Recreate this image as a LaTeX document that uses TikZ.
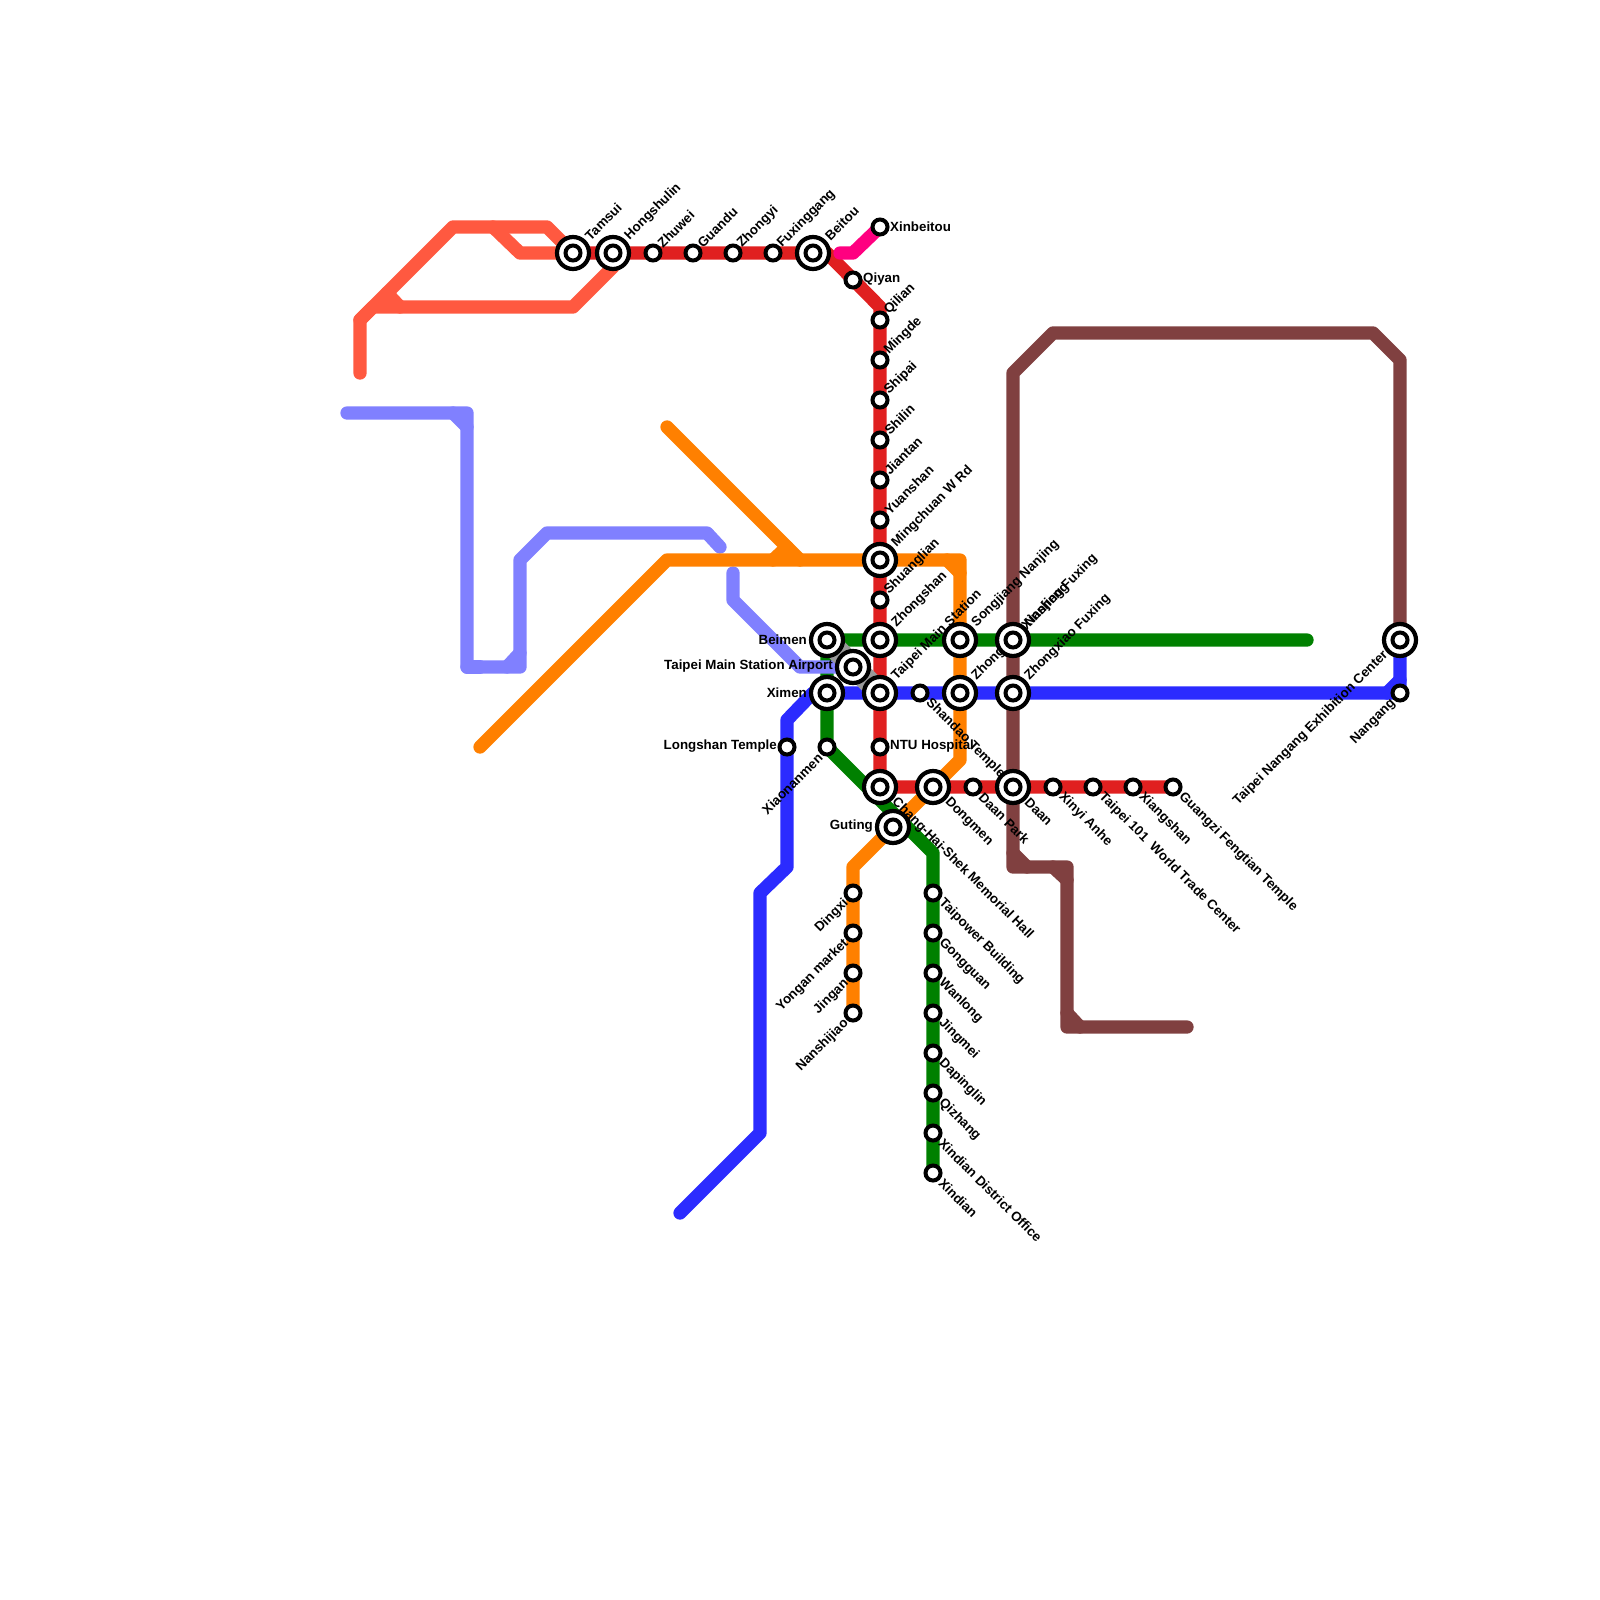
\documentclass[tikz,border=0pt]{standalone}
\usepackage{fontspec}
\setmainfont{Liberation Sans}
\usetikzlibrary{positioning}
\definecolor{lnlight}{HTML}{FF5940}
\definecolor{lnred}{HTML}{E02020}
\definecolor{lnorange}{HTML}{FF8000}
\definecolor{lngreen}{HTML}{008000}
\definecolor{lnblue}{HTML}{2B2BFF}
\definecolor{lnlav}{HTML}{8080FF}
\definecolor{lnbrown}{HTML}{804040}
\definecolor{lnpink}{HTML}{FF0080}
\pgfdeclarelayer{bg}
\pgfdeclarelayer{lab}
\pgfsetlayers{bg,lab,main}
\tikzset{
  mline/.style={line width=13.3pt, line cap=round, line join=round},
  stnsm/.style={circle, draw=black, fill=white, line width=4pt, minimum size=15pt, inner sep=0pt},
  stnbig/.style={circle, draw=black, fill=white, line width=4.2pt, minimum size=32pt, inner sep=0pt},
  lbtxt/.style={font=\fontsize{13.33}{13.33}\selectfont\bfseries, inner sep=0pt, text=black},
  lbne/.style={lbtxt, anchor=west, xshift=6.5pt, yshift=7.5pt, rotate=45},
  lbnex/.style={lbtxt, anchor=west, xshift=14pt, yshift=15pt, rotate=45},
  lbse/.style={lbtxt, anchor=west, xshift=8pt, yshift=-8pt, rotate=-45},
  lbsex/.style={lbtxt, anchor=west, xshift=14pt, yshift=-13pt, rotate=-45},
  lbsw/.style={lbtxt, anchor=east, xshift=-6.5pt, yshift=-8.5pt, rotate=45},
  lbswx/.style={lbtxt, anchor=east, xshift=-14pt, yshift=-13pt, rotate=45},
  lbe/.style={lbtxt, anchor=west, xshift=10pt, yshift=0.5pt},
  lbw/.style={lbtxt, anchor=east, xshift=-10pt, yshift=0.5pt},
  lbwx/.style={lbtxt, anchor=east, xshift=-20pt, yshift=0.5pt},
}
\begin{document}
\begin{tikzpicture}[x=1pt, y=-1pt]
\useasboundingbox (0,0) rectangle (1600,1600);
% bends of the lines
\foreach \n/\x/\y in {la/360/373, lb/360/320, lc/453/227, ld/547/227, le/493/227, lf/520/253, lg/373/307, lh/573/307, li/613/267, lj/387/293, lk/400/307,
    ra/827/253, rb/880/307, pa/840/253, pb/853/253,
    oa/667/427, ob/800/560, oc/480/747, od/667/560, oe/787/547, of/773/560, og/960/560, oh/947/560, oi/960/573, oj/960/760, ok/853/867,
    va/347/413, vb/467/413, vc/453/413, vd/467/427, ve/467/667, vf/520/667, vg/480/667, vh/507/667, vi/520/653, vj/520/560, vk/547/533, vl/707/533, vm/720/547, vn/733/573, vo/733/600, vp/800/667,
    ga/1307/640, gb/933/853,
    ba/680/1213, bb/760/1133, bc/760/893, bd/787/867, be/787/720, bf/813/693, bg/1387/693, bh/1400/680,
    wa/1187/1027, wb/1067/1027, wc/1067/867, wd/1013/867, we/1013/373, wf/1053/333, wg/1373/333, wh/1400/360, wi/1013/853, wj/1027/867, wk/1053/867, wl/1067/880, wm/1067/1013, wn/1080/1027}
  {\coordinate (\n) at (\x,\y);}
% small stations: name/x/y/label style/text
\foreach \n/\x/\y/\st/\lab in {zhuwei/653/253/lbne/Zhuwei, guandu/693/253/lbne/Guandu, zhongyi/733/253/lbne/Zhongyi, fuxinggang/773/253/lbne/Fuxinggang,
    xinbeitou/880/227/lbe/Xinbeitou, qiyan/853/280/lbe/Qiyan,
    qilian/880/320/lbne/Qilian, mingde/880/360/lbne/Mingde, shipai/880/400/lbne/Shipai, shilin/880/440/lbne/Shilin, jiantan/880/480/lbne/Jiantan, yuanshan/880/520/lbne/Yuanshan, shuanglian/880/600/lbne/Shuanglian,
    ntu/880/747/lbe/NTU Hospital, daanpark/973/787/lbse/Daan Park, xinyi/1053/787/lbse/Xinyi Anhe, taipei101/1093/787/lbse/Taipei 101\ \ World Trade Center, xiangshan/1133/787/lbse/Xiangshan, guangzi/1173/787/lbse/Guangzi Fengtian Temple,
    longshan/787/747/lbw/Longshan Temple, xiaonanmen/827/747/lbsw/Xiaonanmen, shandao/920/693/lbse/Shandao Temple,
    dingxi/853/893/lbsw/Dingxi, yongan/853/933/lbsw/Yongan market, jingan/853/973/lbsw/Jingan, nanshijiao/853/1013/lbsw/Nanshijiao,
    taipower/933/893/lbse/Taipower Building, gongguan/933/933/lbse/Gongguan, wanlong/933/973/lbse/Wanlong, jingmei/933/1013/lbse/Jingmei, dapinglin/933/1053/lbse/Dapinglin, qizhang/933/1093/lbse/Qizhang, xdoffice/933/1133/lbse/Xindian District Office, xindian/933/1173/lbse/Xindian,
    nangang/1400/693/lbsw/Nangang}
  {\node[stnsm] (\n) at (\x,\y) {};
   \begin{pgfonlayer}{lab}\node[\st] (\n lb) at (\n) {\lab};\end{pgfonlayer}}
% interchange stations
\foreach \n/\x/\y/\st/\lab in {tamsui/573/253/lbnex/Tamsui, hongshulin/613/253/lbnex/Hongshulin, beitou/813/253/lbnex/Beitou,
    mingchuan/880/560/lbnex/Mingchuan W Rd, zhongshan/880/640/lbnex/Zhongshan, mainstn/880/693/lbnex/Taipei Main Station, ckshall/880/787/lbsex/Chang-Hai-Shek Memorial Hall,
    dongmen/933/787/lbsex/Dongmen, daan/1013/787/lbsex/Daan, guting/893/827/lbwx/Guting,
    beimen/827/640/lbwx/Beimen, airport/853/667/lbwx/Taipei Main Station Airport, ximen/827/693/lbwx/Ximen,
    songjiang/960/640/lbnex/Songjiang Nanjing, xinsheng/960/693/lbnex/Zhongxiao Xinsheng, njfuxing/1013/640/lbnex/Nanjing Fuxing, zxfuxing/1013/693/lbnex/Zhongxiao Fuxing,
    nangangex/1400/640/lbswx/Taipei Nangang Exhibition Center}
  {\node[stnbig] (\n) at (\x,\y) {};
   \node[stnsm] (\n in) at (\n) {};
   \begin{pgfonlayer}{lab}\node[\st] (\n lb) at (\n) {\lab};\end{pgfonlayer}}
\begin{pgfonlayer}{bg}
% lines, lowest first
\draw[mline, lnlight] (la) -- (lb) -- (lc) -- (ld) -- (tamsui.center);
\draw[mline, lnlight] (le) -- (lf) -- (tamsui.center);
\draw[mline, lnlight] (lb) -- (lg) -- (lh) -- (li) -- (hongshulin.center);
\draw[mline, lnlight] (lj) -- (lk);
\draw[mline, lnbrown] (wa) -- (wb) -- (wc) -- (wd) -- (we) -- (wf) -- (wg) -- (wh) -- (nangangex.center);
\draw[mline, lnbrown] (wi) -- (wj);
\draw[mline, lnbrown] (wk) -- (wl);
\draw[mline, lnbrown] (wm) -- (wn);
\draw[mline, lngreen] (ga) -- (beimen.center) -- (xiaonanmen.center) -- (gb) -- (xindian.center);
\draw[mline, lnlav] (va) -- (vb) -- (ve) -- (vf) -- (vj) -- (vk) -- (vl) -- (vm);
\draw[mline, lnlav] (vc) -- (vd);
\draw[mline, lnlav] (ve) -- (vg);
\draw[mline, lnlav] (vh) -- (vi);
\draw[mline, lnlav] (vn) -- (vo) -- (vp) -- (airport.center);
\draw[mline, lnorange] (oa) -- (ob);
\draw[mline, lnorange] (oe) -- (of);
\draw[mline, lnorange] (oc) -- (od) -- (og) -- (oj) -- (ok) -- (nanshijiao.center);
\draw[mline, lnorange] (oh) -- (oi);
\draw[mline, lnblue] (ba) -- (bb) -- (bc) -- (bd) -- (be) -- (bf) -- (nangang.center) -- (nangangex.center);
\draw[mline, lnblue] (bg) -- (bh);
\draw[mline, lnred] (tamsui.center) -- (ra) -- (rb) -- (ckshall.center) -- (guangzi.center);
\draw[mline, lnpink] (pa) -- (pb) -- (xinbeitou.center);
\draw[line width=22pt, black!40] (beimen.center) -- (mainstn.center);
\end{pgfonlayer}
\end{tikzpicture}
\end{document}
